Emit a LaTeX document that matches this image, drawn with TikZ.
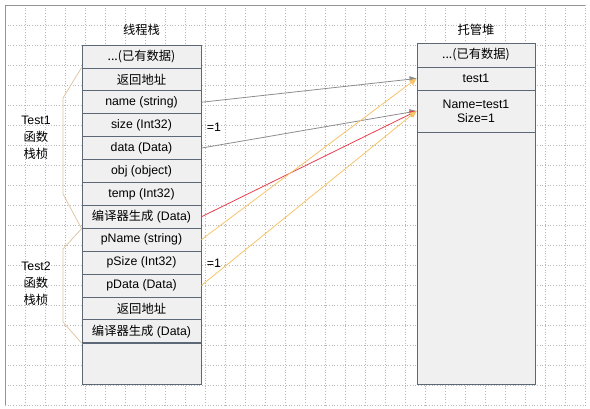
\documentclass[tikz,border=0pt]{standalone}
\usepackage{fontspec}
\setmainfont{Liberation Sans}
\newfontfamily\cjk{Noto Sans CJK SC}
\usetikzlibrary{arrows.meta}
\definecolor{cellfill}{HTML}{F0F0F0}
\definecolor{cellline}{HTML}{5C6875}
\definecolor{gridgray}{HTML}{B8B8B8}
\definecolor{brackettan}{HTML}{E0C6A6}
\definecolor{ptrgray}{HTML}{8C8C8C}
\definecolor{ptrred}{HTML}{E63E4E}
\definecolor{ptrorange}{HTML}{F6C469}
\tikzset{
  cell/.style={draw=cellline,fill=cellfill,rectangle,line width=0.8pt,
    minimum width=119pt,minimum height=22.9pt,inner sep=0pt},
  heapcell/.style={cell,minimum width=118pt},
  ptr/.style={line width=0.8pt,-{Triangle[length=7pt,width=6pt]}},
  bracket/.style={draw=brackettan,line width=0.8pt},
  gridline/.style={draw=gridgray,dotted,line width=0.7pt}
}
\begin{document}
\begin{tikzpicture}[x=1pt,y=-1pt,font=\fontsize{12.3}{17}\selectfont]
\useasboundingbox (0,0) rectangle (590,408);

% background grid
\foreach \x in {25,45,...,585} \draw[gridline] (\x,5) -- (\x,405);
\foreach \y in {25,45,...,405} \draw[gridline] (5,\y) -- (585,\y);
\draw[gridgray!80!black,line width=0.7pt] (5,405) -- (5,5) -- (585,5);

% thread stack
\node (stacktitle) at (141.5,30) {\cjk 线程栈};
\node[cell] (old1) at (141.5,56.45) {\cjk ...(已有数据)};
\node[cell] (ret1) at (141.5,79.35) {\cjk 返回地址};
\node[cell] (name) at (141.5,102.25) {name (string)};
\node[cell] (size) at (141.5,125.15) {size (Int32)};
\node[cell] (data) at (141.5,148.05) {data (Data)};
\node[cell] (obj) at (141.5,170.95) {obj (object)};
\node[cell] (temp) at (141.5,193.85) {temp (Int32)};
\node[cell] (gen1) at (141.5,216.75) {{\cjk 编译器生成} (Data)};
\node[cell] (pname) at (141.5,239.65) {pName (string)};
\node[cell] (psize) at (141.5,262.55) {pSize (Int32)};
\node[cell] (pdata) at (141.5,285.45) {pData (Data)};
\node[cell] (ret2) at (141.5,308.35) {\cjk 返回地址};
\node[cell] (gen2) at (141.5,331.25) {{\cjk 编译器生成} (Data)};
\node[cell,minimum height=40.3pt] (free1) at (141.5,363.85) {};

% managed heap
\node (heaptitle) at (476,30) {\cjk 托管堆};
\node[heapcell,minimum height=24pt] (old2) at (476,55) {\cjk ...(已有数据)};
\node[heapcell,minimum height=23pt] (test1) at (476,78.5) {test1};
\node[heapcell,minimum height=42pt,align=center] (obj1) at (476,111) {Name=test1\\[-3pt]Size=1};
\node[heapcell,minimum height=252pt] (free2) at (476,258) {};

% frames
\node[align=center] (t1label) at (36,138) {Test1\\{\cjk 函数}\\{\cjk 栈桢}};
\node[align=center] (t2label) at (36,284) {Test2\\{\cjk 函数}\\{\cjk 栈桢}};
\draw[bracket] (ret1.north west) -- (63,98) -- (63,194) -- (gen1.south west);
\draw[bracket] (gen1.south west) -- (63,249) -- (63,322) -- (gen2.south west);

\node (val1) at (214,127) {=1};
\node (val2) at (214,263) {=1};

% references
\draw[ptr,ptrgray] (name.east) -- (test1.west);
\draw[ptr,ptrgray] (data.east) -- (obj1.west);
\draw[ptr,ptrred] (gen1.east) -- (obj1.west);
\draw[ptr,ptrorange] (pname.east) -- (test1.west);
\draw[ptr,ptrorange] (pdata.east) -- (obj1.west);
\end{tikzpicture}
\end{document}
